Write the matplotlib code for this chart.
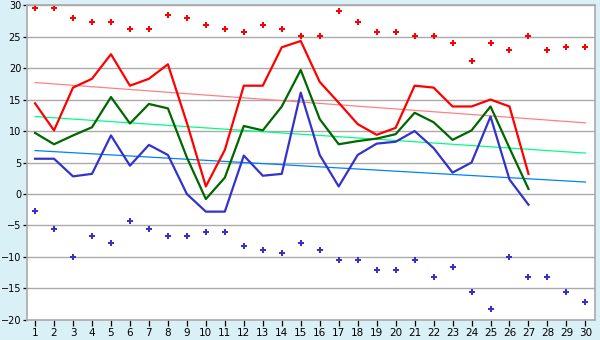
import numpy as np
import matplotlib
matplotlib.use('Agg')
import matplotlib.pyplot as plt

# Data
days = list(range(1, 31))
days_line = list(range(1, 28))

red_line = [14.4, 10.1, 16.9, 18.3, 22.2, 17.2, 18.3, 20.6, 11.3, 1.2,
            7.0, 17.2, 17.2, 23.3, 24.3, 17.8, 14.5, 11.1, 9.4, 10.5,
            17.2, 16.9, 13.9, 13.9, 15.0, 13.9, 3.2]
green_line = [9.7, 7.9, 9.3, 10.6, 15.4, 11.2, 14.3, 13.6, 5.8, -0.8,
              2.6, 10.8, 10.1, 13.9, 19.7, 11.9, 7.9, 8.4, 8.8, 9.5,
              12.9, 11.4, 8.6, 10.1, 13.9, 7.3, 0.8]
blue_line = [5.6, 5.6, 2.8, 3.2, 9.3, 4.5, 7.8, 6.2, 0.0, -2.8,
             -2.8, 6.1, 2.9, 3.2, 16.1, 6.2, 1.2, 6.2, 8.0, 8.3,
             10.0, 7.3, 3.4, 5.0, 12.3, 2.3, -1.7]

red_marks = [29.5, 29.5, 27.9, 27.3, 27.3, 26.2, 26.2, 28.4, 27.9, 26.8,
             26.2, 25.7, 26.8, 26.2, 25.1, 25.1, 29.0, 27.3, 25.7, 25.7,
             25.1, 25.1, 24.0, 21.1, 24.0, 22.9, 25.1, 22.9, 23.4, 23.4]
blue_marks = [-2.7, -5.6, -10.0, -6.7, -7.8, -4.3, -5.6, -6.7, -6.7, -6.1,
              -6.1, -8.3, -8.9, -9.4, -7.8, -8.9, -10.5, -10.5, -12.1, -12.1,
              -10.5, -13.2, -11.6, -15.6, -18.3, -10.0, -13.2, -13.2, -15.6, -17.2]

# trend line end values at day 1 and day 30
trend_x = [1, 30]
red_trend = [17.7, 11.3]
green_trend = [12.3, 6.5]
blue_trend = [6.9, 1.9]

bg = '#daf0f7'
fig = plt.figure(figsize=(6, 3.4), dpi=100, facecolor=bg)
ax = fig.add_axes([0.0445, 0.059, 0.947, 0.926])
ax.set_facecolor('white')

ax.plot(trend_x, red_trend, color='#ff8080', lw=0.9)
ax.plot(trend_x, green_trend, color='#00ff80', lw=0.9)
ax.plot(trend_x, blue_trend, color='#0080ff', lw=0.9)

ax.plot(days_line, red_line, color='#ff0000', lw=1.6)
ax.plot(days_line, green_line, color='#006600', lw=1.6)
ax.plot(days_line, blue_line, color='#3333cc', lw=1.6)

ax.plot(days, red_marks, ls='none', marker='P', ms=4.5, color='#ff0000', mew=0)
ax.plot(days, blue_marks, ls='none', marker='P', ms=4.5, color='#3333cc', mew=0)

ax.set_xlim(0.56, 30.5)
ax.set_ylim(-20, 30)
ax.set_yticks(range(-20, 31, 5))
ax.set_xticks(days)
ax.grid(axis='y', color='#aaaaaa', lw=1)
ax.set_axisbelow(True)
for s in ax.spines.values():
    s.set_color('#aaaaaa')
    s.set_linewidth(1.2)
ax.tick_params(axis='x', labelsize=7.5, colors='#000000', length=4, width=0.9, pad=2)
ax.tick_params(axis='y', labelsize=7, colors='#000000', length=3, width=0.9, pad=1)

fig.savefig('out.png', dpi=100, facecolor=bg)
